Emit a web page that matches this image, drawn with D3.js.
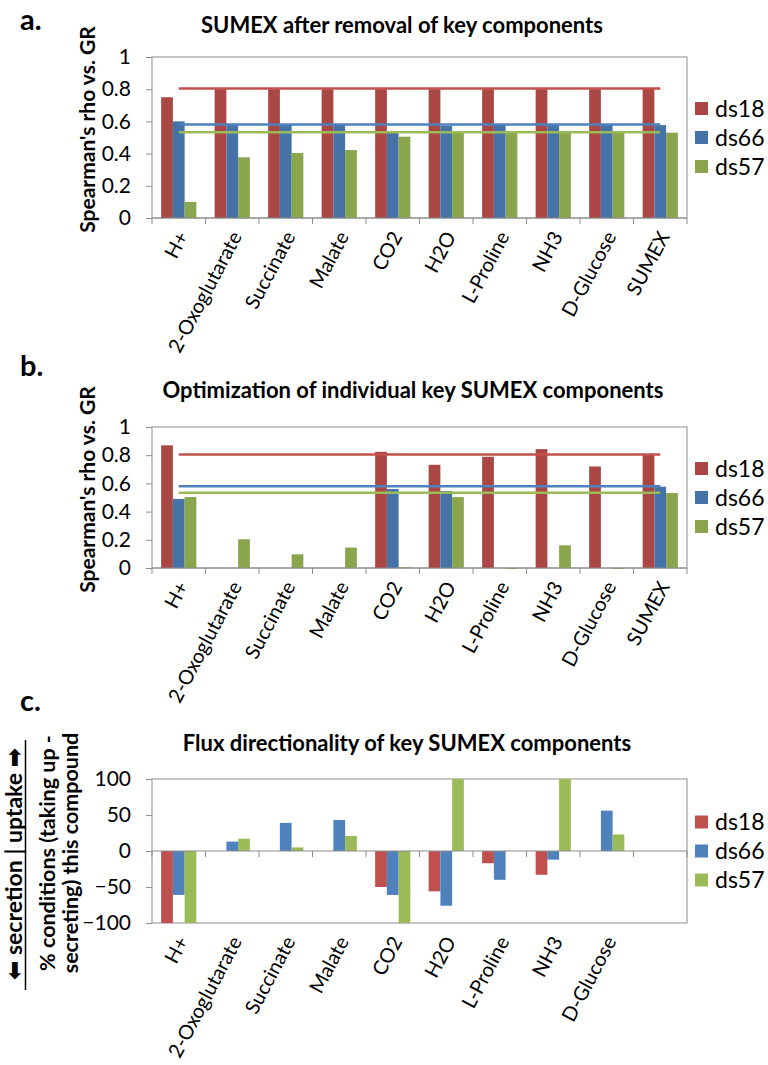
<!DOCTYPE html>
<html>
<head>
<meta charset="utf-8">
<script src="https://cdn.jsdelivr.net/npm/d3@7"></script>
<style>
  body { margin: 0; background: #fff; }
  text { font-family: Lato, "Open Sans", sans-serif; fill: #000; }
</style>
</head>
<body>
<div id="chart"></div>
<script>
const WIDTH = 768;
const HEIGHT = 1065;

const series = ["ds18", "ds66", "ds57"];
const categories = ["H+", "2-Oxoglutarate", "Succinate", "Malate", "CO2", "H2O", "L-Proline", "NH3", "D-Glucose", "SUMEX"];
// panel c has a tenth, unlabelled slot
const fluxCategories = ["H+", "2-Oxoglutarate", "Succinate", "Malate", "CO2", "H2O", "L-Proline", "NH3", "D-Glucose", ""];

// a. SUMEX after removal of key components
const removalDs18 = [0.75, 0.80, 0.80, 0.80, 0.80, 0.80, 0.80, 0.80, 0.80, 0.805];
const removalDs66 = [0.60, 0.58, 0.58, 0.58, 0.54, 0.573, 0.58, 0.58, 0.58, 0.577];
const removalDs57 = [0.10, 0.377, 0.404, 0.422, 0.505, 0.53, 0.53, 0.53, 0.53, 0.53];

// b. Optimization of individual key SUMEX components
const optDs18 = [0.87, null, null, null, 0.824, 0.732, 0.789, 0.843, 0.72, 0.808];
const optDs66 = [0.49, null, null, null, 0.56, 0.545, null, null, null, 0.577];
const optDs57 = [0.503, 0.204, 0.097, 0.145, 0.006, 0.503, -0.005, 0.161, -0.004, 0.532];

// SUMEX reference level per data set (horizontal lines in a and b)
const sumexLevel = [0.805, 0.58, 0.533];

// c. Flux directionality
const fluxDs18 = [-100, null, null, null, -50, -56, -17, -33, null, null];
const fluxDs66 = [-61, 13, 39, 43, -61, -76, -40, -12, 56, null];
const fluxDs57 = [-100, 17, 5, 21, -100, 100, null, 100, 23, null];

const rhoTicks = [0, 0.2, 0.4, 0.6, 0.8, 1];
const fluxTicks = [-100, -50, 0, 50, 100];

const darkColors = ["#AA4643", "#4572A7", "#89A54E"];
const lightColors = ["#C0504D", "#4F81BD", "#9BBB59"];

const PLOT_LEFT = 152;
const PLOT_RIGHT = 687;
const GRAY = "#8c8c8c";

const svg = d3.select("#chart").append("svg")
    .attr("width", WIDTH)
    .attr("height", HEIGHT);

function drawPanel(cfg) {
    const g = svg.append("g");

    const x = d3.scaleBand()
        .domain(cfg.cats)
        .range([PLOT_LEFT, PLOT_RIGHT]);

    const xs = d3.scaleBand()
        .domain(series)
        .range([0, x.bandwidth()])
        .paddingOuter(0.78);

    const y = d3.scaleLinear()
        .domain(cfg.domain)
        .range([cfg.bottom, cfg.top]);

    // plot box
    g.append("rect")
        .attr("x", PLOT_LEFT)
        .attr("y", cfg.top)
        .attr("width", PLOT_RIGHT - PLOT_LEFT)
        .attr("height", cfg.bottom - cfg.top)
        .attr("fill", "none")
        .attr("stroke", GRAY);

    // bars
    const rows = [];
    cfg.values.forEach((vals, si) => {
        vals.forEach((v, ci) => {
            if (v !== null) rows.push({ s: series[si], si: si, c: cfg.cats[ci], v: v });
        });
    });

    g.selectAll("rect.bar")
        .data(rows)
        .enter().append("rect")
        .attr("class", "bar")
        .attr("x", d => x(d.c) + xs(d.s))
        .attr("width", xs.bandwidth())
        .attr("y", d => Math.min(y(d.v), y(0)))
        .attr("height", d => Math.max(1, Math.abs(y(d.v) - y(0))))
        .attr("fill", d => cfg.colors[d.si]);

    // reference lines
    if (cfg.levels) {
        const line = d3.line()
            .x(c => x(c) + x.bandwidth() / 2);
        cfg.levels.forEach((lvl, si) => {
            g.append("path")
                .attr("d", line.y(() => y(lvl))(cfg.cats))
                .attr("fill", "none")
                .attr("stroke", lightColors[si])
                .attr("stroke-width", 2.5);
        });
    }

    // y axis
    const yAxis = g.append("g")
        .attr("transform", `translate(${PLOT_LEFT},0)`)
        .call(d3.axisLeft(y).tickValues(cfg.ticks).tickSize(6).tickPadding(15).tickFormat(d3.format("")));
    yAxis.select(".domain").remove();
    yAxis.selectAll("line").attr("stroke", GRAY);
    yAxis.selectAll("text")
        .attr("font-size", 21)
        .attr("font-family", "Lato, sans-serif")
        .attr("fill", "#000");

    // x axis line + ticks at category boundaries
    const axisY = y(cfg.axisAt);
    g.append("line")
        .attr("x1", PLOT_LEFT).attr("x2", PLOT_RIGHT)
        .attr("y1", axisY).attr("y2", axisY)
        .attr("stroke", GRAY);
    const bounds = cfg.cats.map(c => x(c)).concat([PLOT_RIGHT]);
    g.selectAll("line.xtick")
        .data(bounds)
        .enter().append("line")
        .attr("class", "xtick")
        .attr("x1", d => d).attr("x2", d => d)
        .attr("y1", axisY).attr("y2", axisY + 6)
        .attr("stroke", GRAY);

    // category labels below the plot
    const xAxis = g.append("g")
        .attr("transform", `translate(0,${cfg.bottom})`)
        .call(d3.axisBottom(x).tickSize(0).tickPadding(0));
    xAxis.select(".domain").remove();
    xAxis.selectAll("text")
        .attr("font-size", 20)
        .attr("font-family", "Lato, sans-serif")
        .attr("fill", "#000")
        .attr("text-anchor", "end")
        .attr("y", 0)
        .attr("dy", "0.35em")
        .attr("transform", "translate(4,15) rotate(-62)");

    // title
    g.append("text")
        .attr("x", cfg.titleX)
        .attr("y", cfg.titleY)
        .attr("text-anchor", "middle")
        .attr("font-size", 22)
        .attr("font-weight", "bold")
        .text(cfg.title);

    // legend
    const legendMid = (cfg.top + cfg.bottom) / 2;
    series.forEach((s, i) => {
        const ly = legendMid + (i - 1) * 29;
        g.append("rect")
            .attr("x", 695).attr("y", ly - 6.5)
            .attr("width", 13).attr("height", 13)
            .attr("fill", cfg.colors[i]);
        g.append("text")
            .attr("x", 715).attr("y", ly)
            .attr("dy", "0.35em")
            .attr("font-size", 23)
            .text(s);
    });

    // panel letter
    svg.append("text")
        .attr("x", 20)
        .attr("y", cfg.letterY)
        .attr("font-family", "'Liberation Sans', Arial, sans-serif")
        .attr("font-size", 29)
        .attr("font-weight", "bold")
        .text(cfg.letter);

    return { g, y };
}

const a = drawPanel({
    cats: categories, values: [removalDs18, removalDs66, removalDs57],
    colors: darkColors, levels: sumexLevel,
    top: 57, bottom: 218, domain: [0, 1], ticks: rhoTicks, axisAt: 0,
    title: "SUMEX after removal of key components", titleX: 402, titleY: 33,
    letter: "a.", letterY: 30
});

const b = drawPanel({
    cats: categories, values: [optDs18, optDs66, optDs57],
    colors: darkColors, levels: sumexLevel,
    top: 427, bottom: 568, domain: [0, 1], ticks: rhoTicks, axisAt: 0,
    title: "Optimization of individual key SUMEX components", titleX: 413, titleY: 398,
    letter: "b.", letterY: 376
});

const c = drawPanel({
    cats: fluxCategories, values: [fluxDs18, fluxDs66, fluxDs57],
    colors: lightColors, levels: null,
    top: 779, bottom: 923, domain: [-100, 100], ticks: fluxTicks, axisAt: 0,
    title: "Flux directionality of key SUMEX components", titleX: 407, titleY: 751,
    letter: "c.", letterY: 711
});

// y-axis titles
[[a, 57, 218], [b, 427, 568]].forEach(([p, t, bt]) => {
    svg.append("text")
        .attr("transform", `translate(95,${(t + bt) / 2 - 8}) rotate(-90)`)
        .attr("text-anchor", "middle")
        .attr("font-size", 21)
        .attr("font-weight", "bold")
        .text("Spearman's rho vs. GR");
});

const cMid = 853;
svg.append("text")
    .attr("transform", `translate(55,${cMid}) rotate(-90)`)
    .attr("text-anchor", "middle")
    .attr("font-size", 21.5)
    .attr("font-weight", "bold")
    .text("% conditions (taking up -");
svg.append("text")
    .attr("transform", `translate(78,${cMid}) rotate(-90)`)
    .attr("text-anchor", "middle")
    .attr("font-size", 21.5)
    .attr("font-weight", "bold")
    .text("secreting) this compound");

const dirMid = 864;
const dir = svg.append("text")
    .attr("transform", `translate(22,${dirMid}) rotate(-90)`)
    .attr("text-anchor", "middle")
    .attr("font-size", 23)
    .attr("font-weight", "bold");
dir.append("tspan").attr("font-family", "'DejaVu Sans', sans-serif").text("\u2B05");
dir.append("tspan").text(" secretion | uptake ");
dir.append("tspan").attr("font-family", "'DejaVu Sans', sans-serif").text("\u27A1");
svg.append("line")
    .attr("x1", 25.5).attr("x2", 25.5)
    .attr("y1", 740).attr("y2", 990)
    .attr("stroke", "#000")
    .attr("stroke-width", 1.5);
</script>
</body>
</html>
